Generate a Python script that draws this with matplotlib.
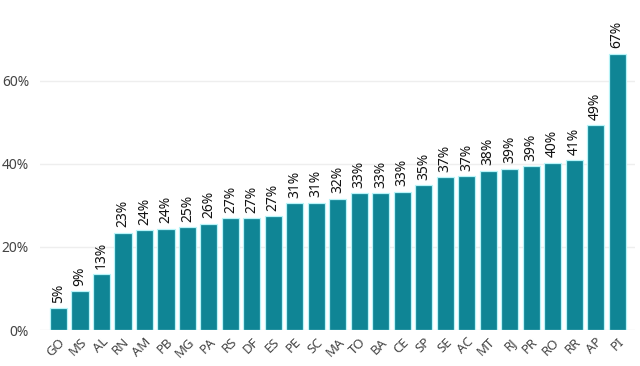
import matplotlib.pyplot as plt
from matplotlib.ticker import FuncFormatter

states = ["GO", "MS", "AL", "RN", "AM", "PB", "MG", "PA", "RS", "DF", "ES", "PE", "SC", "MA",
          "TO", "BA", "CE", "SP", "SE", "AC", "MT", "RJ", "PR", "RO", "RR", "AP", "PI"]
values = [5.3, 9.4, 13.4, 23.4, 24.1, 24.4, 24.7, 25.6, 26.9, 26.9, 27.4, 30.6, 30.7, 31.6,
          32.9, 33.0, 33.3, 34.9, 36.8, 37.0, 38.4, 38.9, 39.4, 40.3, 40.9, 49.3, 66.6]
yticks = [0, 20, 40, 60]

plt.rcParams['font.family'] = ['Noto Sans', 'DejaVu Sans']

fig = plt.figure(figsize=(6.4, 3.66), dpi=100)
ax = fig.add_axes([40 / 640, 36 / 366, 595 / 640, 330 / 366])

x = range(len(states))
bars = ax.bar(x, values, width=0.8, color='#0f8595', edgecolor='#b8f4f8', linewidth=0.9, zorder=3)

for b, v in zip(bars, values):
    ax.text(b.get_x() + b.get_width() / 2, v + 1.3, "%d%%" % round(v), rotation=90,
            ha='center', va='bottom', fontsize=10, color='#111111')

ax.set_xlim(-0.86, 26.83)
ax.set_ylim(0, 79.5)
ax.set_yticks(yticks)
ax.yaxis.set_major_formatter(FuncFormatter(lambda v, p: "%d%%" % v))
ax.set_xticks(list(x))
ax.set_xticklabels(states, rotation=45, ha='right', rotation_mode='anchor')
ax.tick_params(axis='x', length=0, labelsize=9.5, labelcolor='#444444', pad=4)
ax.tick_params(axis='y', length=0, labelsize=10, labelcolor='#444444', pad=8)
ax.grid(axis='y', color='#eeeeee', linewidth=1, zorder=0)
for s in ax.spines.values():
    s.set_visible(False)

fig.savefig('out.png', dpi=100)
